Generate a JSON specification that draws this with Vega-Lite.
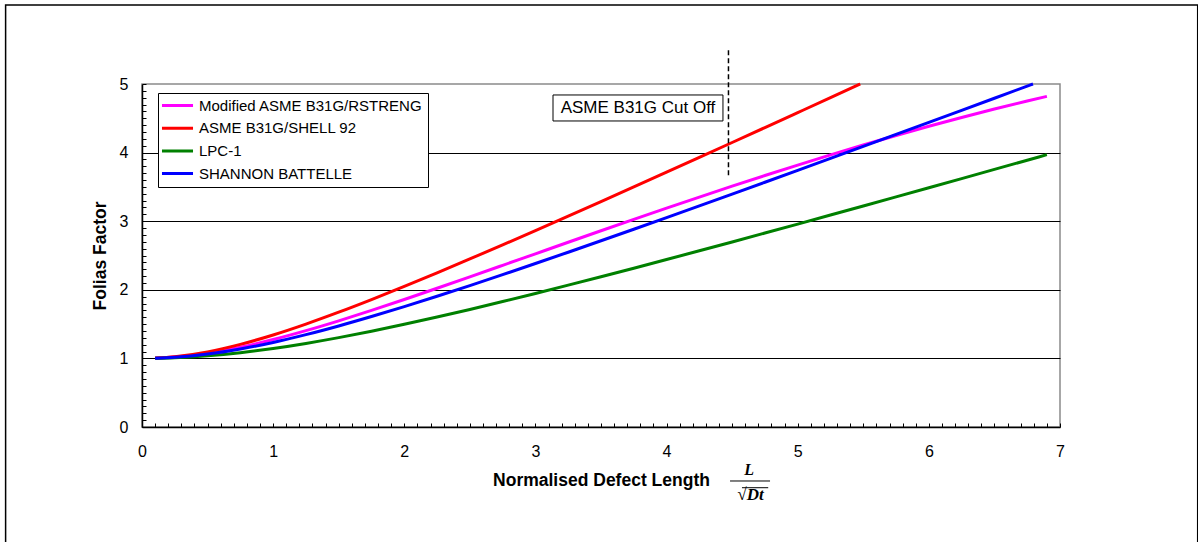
{
  "$schema": "https://vega.github.io/schema/vega-lite/v6.json",
  "width": 918,
  "height": 343,
  "autosize": {"type": "none"},
  "padding": {"left": 142, "top": 84, "right": 138, "bottom": 115},
  "background": "white",
  "config": {
    "view": {"stroke": "#8a8a8a", "strokeWidth": 1.5},
    "font": "Liberation Sans",
    "axis": {
      "labelFont": "Liberation Sans",
      "labelFontSize": 16,
      "labelColor": "#000000",
      "titleFont": "Liberation Sans",
      "titleFontSize": 17.5,
      "titleFontWeight": "bold",
      "titleColor": "#000000",
      "domainColor": "#000000",
      "domainWidth": 1.5,
      "tickColor": "#000000",
      "tickWidth": 1,
      "tickSize": -4,
      "tickCount": 500,
      "labelOverlap": false,
      "labelFlush": false
    }
  },
  "layer": [
    {
      "data": {"values": [{}]},
      "mark": {"type": "rect", "fill": null, "fillOpacity": 0, "stroke": "#000000", "strokeWidth": 1.5},
      "encoding": {
        "x": {"datum": -1.04},
        "x2": {"datum": 8.05},
        "y": {"datum": 6.15},
        "y2": {"datum": -1.8}
      }
    },
    {
      "data": {"values": [
        {"x": 0.1, "y": 1.0031, "m": "Modified ASME B31G/RSTRENG"},
        {"x": 0.25, "y": 1.0194, "m": "Modified ASME B31G/RSTRENG"},
        {"x": 0.5, "y": 1.0755, "m": "Modified ASME B31G/RSTRENG"},
        {"x": 0.75, "y": 1.1627, "m": "Modified ASME B31G/RSTRENG"},
        {"x": 1.0, "y": 1.2744, "m": "Modified ASME B31G/RSTRENG"},
        {"x": 1.25, "y": 1.4044, "m": "Modified ASME B31G/RSTRENG"},
        {"x": 1.5, "y": 1.5475, "m": "Modified ASME B31G/RSTRENG"},
        {"x": 1.75, "y": 1.7, "m": "Modified ASME B31G/RSTRENG"},
        {"x": 2.0, "y": 1.859, "m": "Modified ASME B31G/RSTRENG"},
        {"x": 2.25, "y": 2.0224, "m": "Modified ASME B31G/RSTRENG"},
        {"x": 2.5, "y": 2.1886, "m": "Modified ASME B31G/RSTRENG"},
        {"x": 2.75, "y": 2.3564, "m": "Modified ASME B31G/RSTRENG"},
        {"x": 3.0, "y": 2.5247, "m": "Modified ASME B31G/RSTRENG"},
        {"x": 3.25, "y": 2.6929, "m": "Modified ASME B31G/RSTRENG"},
        {"x": 3.5, "y": 2.8602, "m": "Modified ASME B31G/RSTRENG"},
        {"x": 3.75, "y": 3.026, "m": "Modified ASME B31G/RSTRENG"},
        {"x": 4.0, "y": 3.19, "m": "Modified ASME B31G/RSTRENG"},
        {"x": 4.25, "y": 3.3516, "m": "Modified ASME B31G/RSTRENG"},
        {"x": 4.5, "y": 3.5104, "m": "Modified ASME B31G/RSTRENG"},
        {"x": 4.75, "y": 3.6661, "m": "Modified ASME B31G/RSTRENG"},
        {"x": 5.0, "y": 3.8181, "m": "Modified ASME B31G/RSTRENG"},
        {"x": 5.25, "y": 3.9663, "m": "Modified ASME B31G/RSTRENG"},
        {"x": 5.5, "y": 4.1102, "m": "Modified ASME B31G/RSTRENG"},
        {"x": 5.75, "y": 4.2494, "m": "Modified ASME B31G/RSTRENG"},
        {"x": 6.0, "y": 4.3836, "m": "Modified ASME B31G/RSTRENG"},
        {"x": 6.25, "y": 4.5124, "m": "Modified ASME B31G/RSTRENG"},
        {"x": 6.5, "y": 4.6354, "m": "Modified ASME B31G/RSTRENG"},
        {"x": 6.75, "y": 4.7523, "m": "Modified ASME B31G/RSTRENG"},
        {"x": 6.9, "y": 4.8193, "m": "Modified ASME B31G/RSTRENG"},
        {"x": 0.1, "y": 1.004, "m": "ASME B31G/SHELL 92"},
        {"x": 0.25, "y": 1.0247, "m": "ASME B31G/SHELL 92"},
        {"x": 0.5, "y": 1.0954, "m": "ASME B31G/SHELL 92"},
        {"x": 0.75, "y": 1.2042, "m": "ASME B31G/SHELL 92"},
        {"x": 1.0, "y": 1.3416, "m": "ASME B31G/SHELL 92"},
        {"x": 1.25, "y": 1.5, "m": "ASME B31G/SHELL 92"},
        {"x": 1.5, "y": 1.6733, "m": "ASME B31G/SHELL 92"},
        {"x": 1.75, "y": 1.8574, "m": "ASME B31G/SHELL 92"},
        {"x": 2.0, "y": 2.0494, "m": "ASME B31G/SHELL 92"},
        {"x": 2.25, "y": 2.2472, "m": "ASME B31G/SHELL 92"},
        {"x": 2.5, "y": 2.4495, "m": "ASME B31G/SHELL 92"},
        {"x": 2.75, "y": 2.6552, "m": "ASME B31G/SHELL 92"},
        {"x": 3.0, "y": 2.8636, "m": "ASME B31G/SHELL 92"},
        {"x": 3.25, "y": 3.0741, "m": "ASME B31G/SHELL 92"},
        {"x": 3.5, "y": 3.2863, "m": "ASME B31G/SHELL 92"},
        {"x": 3.75, "y": 3.5, "m": "ASME B31G/SHELL 92"},
        {"x": 4.0, "y": 3.7148, "m": "ASME B31G/SHELL 92"},
        {"x": 4.25, "y": 3.9306, "m": "ASME B31G/SHELL 92"},
        {"x": 4.5, "y": 4.1473, "m": "ASME B31G/SHELL 92"},
        {"x": 4.75, "y": 4.3646, "m": "ASME B31G/SHELL 92"},
        {"x": 5.0, "y": 4.5826, "m": "ASME B31G/SHELL 92"},
        {"x": 5.25, "y": 4.801, "m": "ASME B31G/SHELL 92"},
        {"x": 5.477, "y": 5.0, "m": "ASME B31G/SHELL 92"},
        {"x": 0.1, "y": 1.0015, "m": "LPC-1"},
        {"x": 0.25, "y": 1.0096, "m": "LPC-1"},
        {"x": 0.5, "y": 1.038, "m": "LPC-1"},
        {"x": 0.75, "y": 1.0837, "m": "LPC-1"},
        {"x": 1.0, "y": 1.1446, "m": "LPC-1"},
        {"x": 1.25, "y": 1.2184, "m": "LPC-1"},
        {"x": 1.5, "y": 1.3029, "m": "LPC-1"},
        {"x": 1.75, "y": 1.3962, "m": "LPC-1"},
        {"x": 2.0, "y": 1.4967, "m": "LPC-1"},
        {"x": 2.25, "y": 1.6029, "m": "LPC-1"},
        {"x": 2.5, "y": 1.7139, "m": "LPC-1"},
        {"x": 2.75, "y": 1.8288, "m": "LPC-1"},
        {"x": 3.0, "y": 1.9468, "m": "LPC-1"},
        {"x": 3.25, "y": 2.0675, "m": "LPC-1"},
        {"x": 3.5, "y": 2.1903, "m": "LPC-1"},
        {"x": 3.75, "y": 2.315, "m": "LPC-1"},
        {"x": 4.0, "y": 2.4413, "m": "LPC-1"},
        {"x": 4.25, "y": 2.5689, "m": "LPC-1"},
        {"x": 4.5, "y": 2.6977, "m": "LPC-1"},
        {"x": 4.75, "y": 2.8274, "m": "LPC-1"},
        {"x": 5.0, "y": 2.958, "m": "LPC-1"},
        {"x": 5.25, "y": 3.0894, "m": "LPC-1"},
        {"x": 5.5, "y": 3.2214, "m": "LPC-1"},
        {"x": 5.75, "y": 3.354, "m": "LPC-1"},
        {"x": 6.0, "y": 3.4871, "m": "LPC-1"},
        {"x": 6.25, "y": 3.6207, "m": "LPC-1"},
        {"x": 6.5, "y": 3.7547, "m": "LPC-1"},
        {"x": 6.75, "y": 3.889, "m": "LPC-1"},
        {"x": 6.9, "y": 3.9698, "m": "LPC-1"},
        {"x": 0.1, "y": 1.0026, "m": "SHANNON BATTELLE"},
        {"x": 0.25, "y": 1.0161, "m": "SHANNON BATTELLE"},
        {"x": 0.5, "y": 1.063, "m": "SHANNON BATTELLE"},
        {"x": 0.75, "y": 1.1369, "m": "SHANNON BATTELLE"},
        {"x": 1.0, "y": 1.2329, "m": "SHANNON BATTELLE"},
        {"x": 1.25, "y": 1.3463, "m": "SHANNON BATTELLE"},
        {"x": 1.5, "y": 1.4731, "m": "SHANNON BATTELLE"},
        {"x": 1.75, "y": 1.6101, "m": "SHANNON BATTELLE"},
        {"x": 2.0, "y": 1.755, "m": "SHANNON BATTELLE"},
        {"x": 2.25, "y": 1.9059, "m": "SHANNON BATTELLE"},
        {"x": 2.5, "y": 2.0616, "m": "SHANNON BATTELLE"},
        {"x": 2.75, "y": 2.2209, "m": "SHANNON BATTELLE"},
        {"x": 3.0, "y": 2.3833, "m": "SHANNON BATTELLE"},
        {"x": 3.25, "y": 2.548, "m": "SHANNON BATTELLE"},
        {"x": 3.5, "y": 2.7148, "m": "SHANNON BATTELLE"},
        {"x": 3.75, "y": 2.8831, "m": "SHANNON BATTELLE"},
        {"x": 4.0, "y": 3.0529, "m": "SHANNON BATTELLE"},
        {"x": 4.25, "y": 3.2237, "m": "SHANNON BATTELLE"},
        {"x": 4.5, "y": 3.3956, "m": "SHANNON BATTELLE"},
        {"x": 4.75, "y": 3.5683, "m": "SHANNON BATTELLE"},
        {"x": 5.0, "y": 3.7417, "m": "SHANNON BATTELLE"},
        {"x": 5.25, "y": 3.9157, "m": "SHANNON BATTELLE"},
        {"x": 5.5, "y": 4.0902, "m": "SHANNON BATTELLE"},
        {"x": 5.75, "y": 4.2653, "m": "SHANNON BATTELLE"},
        {"x": 6.0, "y": 4.4407, "m": "SHANNON BATTELLE"},
        {"x": 6.25, "y": 4.6166, "m": "SHANNON BATTELLE"},
        {"x": 6.5, "y": 4.7927, "m": "SHANNON BATTELLE"},
        {"x": 6.75, "y": 4.9692, "m": "SHANNON BATTELLE"},
        {"x": 6.794, "y": 5.0, "m": "SHANNON BATTELLE"}
      ]},
      "mark": {"type": "line", "strokeWidth": 3, "interpolate": "monotone"},
      "encoding": {
        "x": {
          "field": "x", "type": "quantitative",
          "scale": {"domain": [0, 7], "nice": false, "zero": false},
          "axis": {
            "title": "Normalised Defect Length",
            "titlePadding": 12,
            "labelPadding": 20,
            "grid": false,
            "tickCount": 500,
            "values": [0,0.1,0.2,0.3,0.4,0.5,0.6,0.7,0.8,0.9,1,1.1,1.2,1.3,1.4,1.5,1.6,1.7,1.8,1.9,2,2.1,2.2,2.3,2.4,2.5,2.6,2.7,2.8,2.9,3,3.1,3.2,3.3,3.4,3.5,3.6,3.7,3.8,3.9,4,4.1,4.2,4.3,4.4,4.5,4.6,4.7,4.8,4.9,5,5.1,5.2,5.3,5.4,5.5,5.6,5.7,5.8,5.9,6,6.1,6.2,6.3,6.4,6.5,6.6,6.7,6.8,6.9,7],
            "labelExpr": "datum.value % 1 === 0 ? format(datum.value, 'd') : ''"
          }
        },
        "y": {
          "field": "y", "type": "quantitative",
          "scale": {"domain": [0, 5], "nice": false},
          "axis": {
            "title": "Folias Factor",
            "titlePadding": 10,
            "labelPadding": 18,
            "grid": true,
            "gridColor": "#000000",
            "gridWidth": 1,
            "tickCount": 500,
            "gridOpacity": {"condition": {"test": "datum.value % 1 === 0 && datum.value > 0 && datum.value < 5", "value": 1}, "value": 0},
            "values": [0,0.1,0.2,0.3,0.4,0.5,0.6,0.7,0.8,0.9,1,1.1,1.2,1.3,1.4,1.5,1.6,1.7,1.8,1.9,2,2.1,2.2,2.3,2.4,2.5,2.6,2.7,2.8,2.9,3,3.1,3.2,3.3,3.4,3.5,3.6,3.7,3.8,3.9,4,4.1,4.2,4.3,4.4,4.5,4.6,4.7,4.8,4.9,5],
            "labelExpr": "datum.value % 1 === 0 ? format(datum.value, 'd') : ''"
          }
        },
        "color": {
          "field": "m", "type": "nominal",
          "scale": {
            "domain": ["Modified ASME B31G/RSTRENG", "ASME B31G/SHELL 92", "LPC-1", "SHANNON BATTELLE"],
            "range": ["#FF00FF", "#FF0000", "#008000", "#0000FF"]
          },
          "legend": {
            "title": null,
            "orient": "none",
            "legendX": 16,
            "legendY": 9,
            "direction": "vertical",
            "strokeColor": "#000000",
            "fillColor": "#ffffff",
            "padding": 5,
            "symbolType": "M-3,0H3",
            "symbolSize": 107,
            "symbolOffset": 7,
            "symbolStrokeWidth": 3,
            "labelFont": "Liberation Sans",
            "labelFontSize": 15,
            "labelColor": "#000000",
            "labelOffset": 14,
            "rowPadding": 6.7,
            "labelLimit": 400
          }
        }
      }
    },
    {
      "data": {"values": [{}]},
      "mark": {"type": "rule", "stroke": "#000000", "strokeWidth": 1.5, "strokeDash": [5, 3]},
      "encoding": {
        "x": {"datum": 4.472},
        "y": {"datum": 3.67},
        "y2": {"datum": 5.5}
      }
    },
    {
      "data": {"values": [{}]},
      "mark": {"type": "rect", "fill": "#ffffff", "stroke": "#000000", "strokeWidth": 1},
      "encoding": {
        "x": {"datum": 3.134},
        "x2": {"datum": 4.43},
        "y": {"datum": 4.84},
        "y2": {"datum": 4.461}
      }
    },
    {
      "data": {"values": [{}]},
      "mark": {"type": "text", "text": "ASME B31G Cut Off", "font": "Liberation Sans", "fontSize": 17, "align": "center", "baseline": "middle", "color": "#000000"},
      "encoding": {
        "x": {"datum": 3.782},
        "y": {"datum": 4.65}
      }
    },
    {
      "data": {"values": [{}]},
      "mark": {"type": "text", "text": "L", "font": "Liberation Serif", "fontSize": 16, "fontStyle": "italic", "fontWeight": "bold", "align": "center", "baseline": "middle", "color": "#000000"},
      "encoding": {
        "x": {"datum": 4.629},
        "y": {"datum": -0.627}
      }
    },
    {
      "data": {"values": [{}]},
      "mark": {"type": "rule", "stroke": "#000000", "strokeWidth": 1},
      "encoding": {
        "x": {"datum": 4.484},
        "x2": {"datum": 4.789},
        "y": {"datum": -0.787}
      }
    },
    {
      "data": {"values": [{}]},
      "mark": {"type": "text", "text": "√Dt", "font": "Liberation Serif", "fontSize": 17, "fontStyle": "italic", "fontWeight": "bold", "align": "center", "baseline": "middle", "color": "#000000"},
      "encoding": {
        "x": {"datum": 4.64},
        "y": {"datum": -0.991}
      }
    },
    {
      "data": {"values": [{}]},
      "mark": {"type": "rule", "stroke": "#000000", "strokeWidth": 1},
      "encoding": {
        "x": {"datum": 4.575},
        "x2": {"datum": 4.775},
        "y": {"datum": -0.885}
      }
    }
  ]
}
